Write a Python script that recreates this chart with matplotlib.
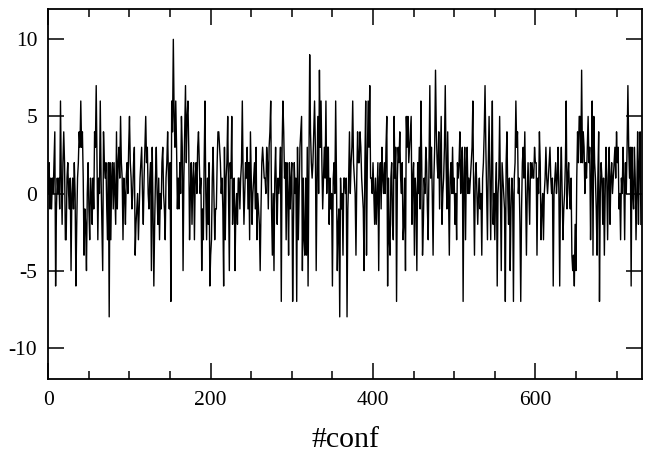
import matplotlib
matplotlib.use("Agg")
import matplotlib.pyplot as plt
from matplotlib.ticker import MultipleLocator

# values per configuration in blocks of ten
values = [
    0, 2, -1, 1, -1, 1, 0, 2, 4, -6,
    -1, 1, 0, 1, -1, 6, 1, -2, 2, 4,
    2, -3, -3, 1, 2, 0, -1, 1, -5, 0,
    1, -1, 2, 0, -6, -2, 1, 2, 4, 3,
    6, 3, 4, 1, -4, -1, -2, -5, 0, 2,
    -1, -3, 1, 0, -2, 1, -1, 4, 3, 7,
    2, -3, 1, 0, 6, 1, -2, -5, 4, 2,
    1, 2, -1, -3, 2, -8, 2, -3, 1, 2,
    -1, 2, 0, -2, 4, -1, 2, 3, 1, 5,
    2, 1, -3, 1, 0, -2, 1, 2, 0, 3,
    5, 2, 1, -1, 0, 2, 3, -4, -2, -1,
    0, -3, -1, 1, 2, 3, 0, -2, 1, 3,
    5, 2, 3, 0, -1, 1, 2, -5, 3, -1,
    -6, -2, 1, 3, 0, -2, 1, -3, 0, -1,
    2, 3, 0, -1, -3, 1, 2, 4, 1, -1,
    2, -7, 6, 4, 10, 5, 3, 6, 3, -1,
    1, -1, 2, 0, 5, 3, -5, 1, 4, 7,
    2, 5, 6, 3, -3, 0, 2, -2, 1, 2,
    -3, 1, 2, 0, 3, 4, 2, 0, 1, -5,
    -1, -3, 2, 6, 0, -3, 1, -2, 2, -6,
    -4, -3, 1, 3, 0, -3, -1, -1, 2, 4,
    4, 3, 2, 0, 1, -1, -6, 3, -3, 1,
    2, 5, 0, -5, 2, 1, 5, -2, 0, 1,
    -5, -1, 0, -2, 1, 1, -1, 1, 2, 6,
    1, -2, 0, 2, 1, 3, -1, 2, -3, 4,
    1, -2, 0, 1, 2, -1, 3, -3, 0, -1,
    -2, -5, -1, 2, 3, 2, 1, 1, 0, 3,
    2, -1, 3, 4, 6, -1, -4, 0, -5, 1,
    3, 0, -2, 1, 0, 1, 3, -7, 3, 6,
    4, 1, 2, -3, 2, 0, -4, 2, -1, 1,
    2, -7, -2, 2, 0, 1, -7, 3, -3, 0,
    3, 4, 5, -5, 1, -3, -4, 1, -4, 3,
    -6, 2, 9, 4, 2, 1, 2, 4, 6, 3,
    -5, 1, 5, 0, 8, 3, 6, 2, -1, 1,
    3, 1, 6, 0, 3, 3, -2, 1, -1, 0,
    -6, 1, 2, 0, 6, 1, -5, -2, -1, -8,
    1, -1, 0, -4, 1, 1, 0, 1, -8, -1,
    1, 4, 0, 2, 3, 6, 2, 1, 0, -4,
    1, 4, 2, 2, 4, 3, 1, 0, -1, -5,
    2, 6, -4, 2, 6, 3, 7, 1, 1, 0,
    2, 0, -2, 1, -2, 0, 2, -5, 1, 2,
    -1, 3, 1, 0, 2, 0, 3, 5, -6, 1,
    -3, -4, 1, 2, -2, -3, 5, 1, 3, -7,
    1, 3, 2, 4, 1, 0, 2, -3, -2, 1,
    -5, 5, 3, 5, 2, 3, 4, 5, -2, 1,
    2, -4, 1, 0, -5, 2, 0, 3, -1, 6,
    2, -4, -2, 1, 0, 3, 2, -1, -3, 2,
    7, 1, 3, 0, -4, 1, 3, 8, 4, 2,
    1, 4, -1, 2, 5, -2, 0, 1, 3, 7,
    2, -1, 4, 0, -4, 1, 2, 0, 3, 0,
    1, -2, 0, -3, 2, 1, 2, 4, 0, 2,
    3, -7, 1, 3, -3, 2, 3, 0, 1, 0,
    1, 2, 3, 6, 0, -4, 1, 2, 0, -2,
    0, 1, -1, 0, -4, 1, 2, 4, 7, 3,
    0, -3, 2, 5, 1, -3, 2, 6, -2, 0,
    -3, 0, 2, -6, 0, 1, 5, 0, -5, 2,
    1, 0, -1, -7, 2, 4, 0, -2, 1, -5,
    -1, 1, 0, -7, 1, 2, 6, 3, 4, 0,
    1, -2, -7, -1, 2, 3, 1, 4, 0, -4,
    0, 2, 0, -2, 2, 1, 2, 1, 1, 3,
    2, 2, -4, 1, 0, 4, 2, -3, -1, 0,
    -3, 0, 1, 3, 1, 0, 1, 2, 3, 1,
    0, 1, -6, 0, 1, 2, 0, 1, 3, 0,
    -6, 1, 3, 0, -3, -1, 0, 2, 6, -1,
    1, 2, 0, -1, 1, -4, -5, -4, -6, -2,
    -5, 1, 4, 2, 5, 5, 2, 8, 2, 4,
    3, 0, 2, 1, 3, 5, 2, 3, -3, 1,
    6, -4, 5, 2, 1, -1, -4, 1, 4, -7,
    0, 2, 1, -2, 1, -4, 0, 3, 1, -3,
    1, 3, -2, 1, 2, 0, 1, 2, 3, 1,
    4, 2, 3, -1, 0, -3, 1, 0, 3, 1,
    -3, 2, 0, 3, 7, 3, 1, 3, -6, 3,
    0, -1, 3, 1, -3, 0, 4, -2, 2, 4,
    -2,
]
conf = list(range(len(values)))

x_ticks = [0, 200, 400, 600]
y_ticks = [-10, -5, 0, 5, 10]

plt.rcParams['font.family'] = ['Liberation Serif', 'DejaVu Serif']
plt.rcParams['axes.unicode_minus'] = False

fig = plt.figure(figsize=(6.52, 4.55), dpi=100)
ax = fig.add_axes([0.0741, 0.1681, 0.9101, 0.8132])

ax.plot(conf, values, color='black', linewidth=1.0)

ax.set_xlim(0, len(values))
ax.set_ylim(-12, 12)
ax.set_xticks(x_ticks)
ax.set_yticks(y_ticks)
ax.xaxis.set_minor_locator(MultipleLocator(50))

for side in ['top', 'bottom', 'left', 'right']:
    ax.spines[side].set_linewidth(1.3)

ax.tick_params(which='both', direction='in', top=True, right=True, width=1.1)
ax.tick_params(which='major', length=11.5, labelsize=15.5)
ax.tick_params(axis='x', which='major', pad=9)
ax.tick_params(axis='y', which='major', pad=8)
ax.tick_params(which='minor', length=5.8)

ax.set_xlabel('#conf', fontsize=21.5, labelpad=12)

fig.savefig('out.png', dpi=100)
